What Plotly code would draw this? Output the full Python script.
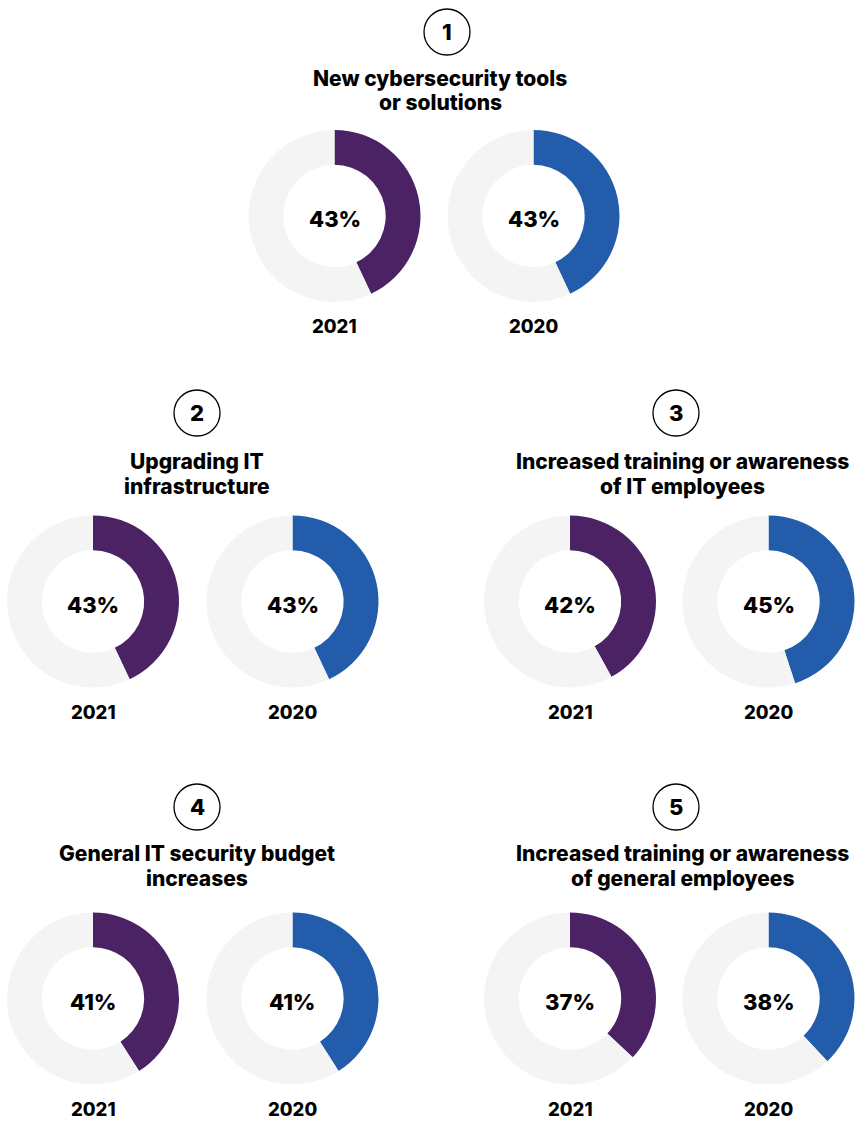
import plotly.graph_objects as go

# Survey results: share of respondents citing each priority, by year
categories = [
    ["New cybersecurity tools", "or solutions"],
    ["Upgrading IT", "infrastructure"],
    ["Increased training or awareness", "of IT employees"],
    ["General IT security budget", "increases"],
    ["Increased training or awareness", "of general employees"],
]
values_2021 = [43, 43, 42, 41, 37]
values_2020 = [43, 43, 45, 41, 38]
years = ["2021", "2020"]

W, H = 857, 1121
PURPLE = "#4B2365"
BLUE = "#225CAB"
GREY = "#F4F4F4"
FONT = "Inter"

# Layout of each panel (pixel centres): left donut x, right donut x, donut y,
# badge x, badge y, title x, title first-line y
panels = [
    dict(dx=(334.5, 533.5), dy=216, bx=447, by=32, tx=440, ty=78),
    dict(dx=(93, 292.5), dy=601.5, bx=197, by=413, tx=197, ty=461),
    dict(dx=(570, 768.5), dy=601.5, bx=676, by=413, tx=682, ty=461),
    dict(dx=(93, 292.5), dy=998.5, bx=197, by=807, tx=197, ty=853),
    dict(dx=(570, 768.5), dy=998.5, bx=676, by=807, tx=682, ty=853),
]
R = 86          # outer donut radius, px
BADGE_R = 23    # numbered circle radius, px


def px(x):
    return x / W


def py(y):
    return 1 - y / H


def label(x, y, text, size):
    return dict(
        x=px(x), y=py(y), xref="paper", yref="paper",
        xanchor="center", yanchor="middle",
        text=text, showarrow=False,
        font=dict(family=FONT, size=size, color="#000000", weight=800),
    )


fig = go.Figure()
annotations = []
shapes = []

for i, (p, title) in enumerate(zip(panels, categories)):
    vals = [values_2021[i], values_2020[i]]
    colors = [PURPLE, BLUE]
    for j in range(2):
        cx, cy = p["dx"][j], p["dy"]
        v = vals[j]
        fig.add_trace(go.Pie(
            values=[v, 100 - v],
            labels=[f"{years[j]} share", f"{years[j]} rest"],
            marker=dict(colors=[colors[j], GREY], line=dict(width=0)),
            hole=0.595,
            sort=False,
            direction="clockwise",
            rotation=0,
            textinfo="none",
            hoverinfo="skip",
            showlegend=False,
            domain=dict(x=[px(cx - R), px(cx + R)], y=[py(cy + R), py(cy - R)]),
        ))
        annotations.append(label(cx, cy + 3, f"{v}%", 22))
        annotations.append(label(cx, cy + 110, years[j], 18.5))
    # numbered badge
    shapes.append(dict(
        type="circle", xref="paper", yref="paper",
        x0=px(p["bx"] - BADGE_R), x1=px(p["bx"] + BADGE_R),
        y0=py(p["by"] + BADGE_R), y1=py(p["by"] - BADGE_R),
        line=dict(color="#000000", width=1.3), fillcolor="rgba(0,0,0,0)",
    ))
    annotations.append(label(p["bx"], p["by"], str(i + 1), 22))
    # two-line title
    for k, line in enumerate(title):
        annotations.append(label(p["tx"], p["ty"] + 25 * k, line, 21))

fig.update_layout(
    width=W, height=H,
    margin=dict(l=0, r=0, t=0, b=0),
    paper_bgcolor="#FFFFFF",
    plot_bgcolor="#FFFFFF",
    annotations=annotations,
    shapes=shapes,
)

fig.write_html("out.html")
